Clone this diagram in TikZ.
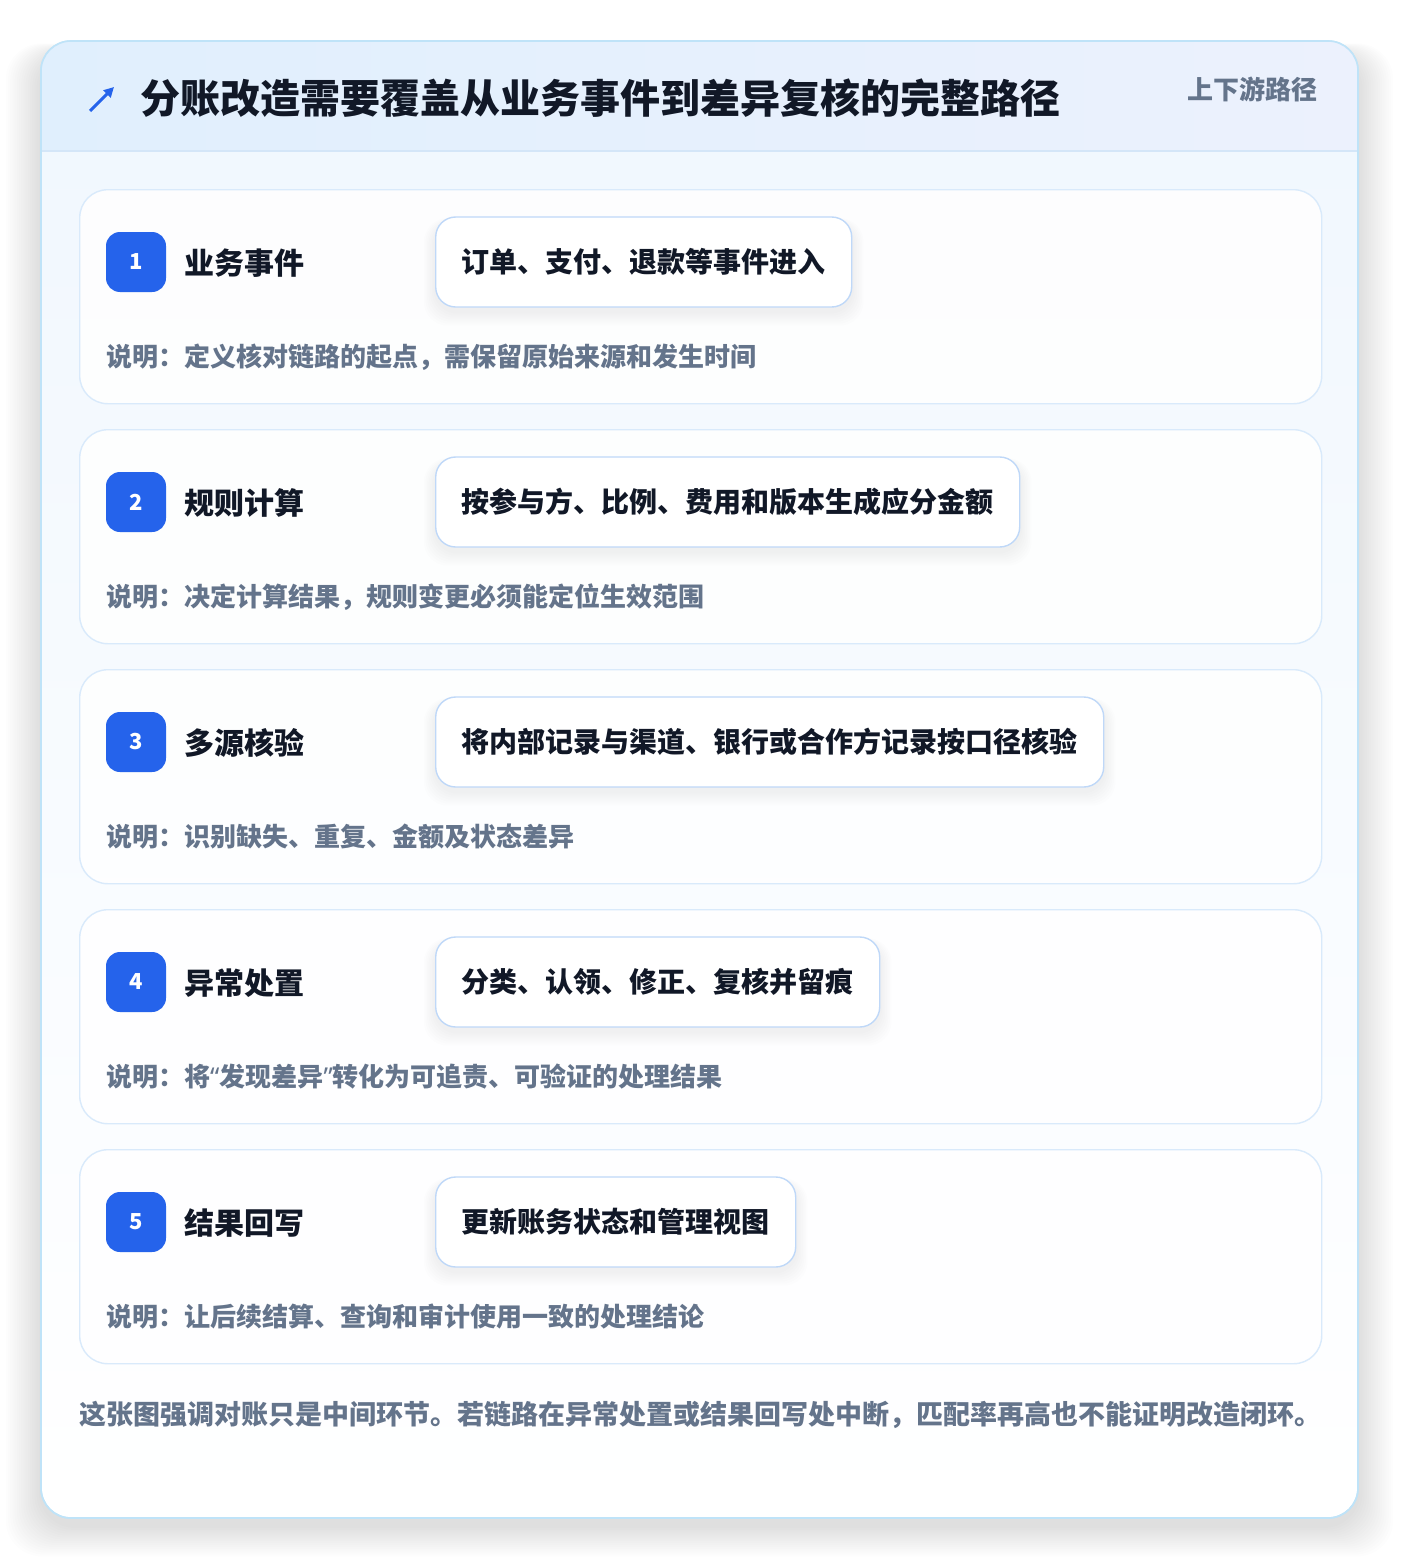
\documentclass[tikz,border=0pt]{standalone}
\usepackage{fontspec}
\setmainfont{Noto Sans CJK SC}
\newfontfamily\latinq{Noto Sans}
\usetikzlibrary{arrows.meta}
\definecolor{cardline}{HTML}{BFE3F8}
\definecolor{headA}{HTML}{E0EFFD}
\definecolor{headB}{HTML}{ECF1FD}
\definecolor{headline}{HTML}{D4E6F8}
\definecolor{bodytop}{HTML}{F0F7FE}
\definecolor{stepline}{HTML}{D9EAFB}
\definecolor{boxline}{HTML}{BFD8F8}
\definecolor{badgeblue}{HTML}{2563EB}
\definecolor{ink}{HTML}{111827}
\definecolor{muted}{HTML}{64748B}
\pgfdeclarelayer{cardlayer}
\pgfdeclarelayer{shadowlayer}
\pgfsetlayers{cardlayer,shadowlayer,main}
\tikzset{
  stepcard/.style={draw=stepline, line width=1.4pt, fill=white, fill opacity=0.85, rounded corners=28pt},
  badge/.style={fill=badgeblue, rounded corners=14pt, minimum width=60pt, minimum height=60pt, inner sep=0pt, text=white, font=\bfseries\fontsize{22}{22}\selectfont},
  steptitle/.style={anchor=west, inner sep=0pt, text=ink, font=\bfseries\fontsize{30}{30}\selectfont},
  actionbox/.style={anchor=west, draw=boxline, line width=1.4pt, fill=white, rounded corners=20pt, inner xsep=26pt, inner ysep=0pt, minimum height=90pt, text=ink, font=\bfseries\fontsize{28}{28}\selectfont},
  desc/.style={anchor=west, inner sep=0pt, text=muted, font=\bfseries\fontsize{26}{26}\selectfont},
}
\begin{document}
\begin{tikzpicture}[x=1pt,y=-1pt]
\begin{pgfonlayer}{cardlayer}
\useasboundingbox (0,0) rectangle (1400,1560);
\fill[white] (0,0) rectangle (1400,1560);
% outer shadow
\foreach \k in {1,...,16}{
  \fill[black, opacity=0.006, rounded corners=36pt] (41-\k*2.2, 41+12-\k*0.6) rectangle (1358+\k*2.2, 1518+8+\k*1.9);
}
% outer card
\path[draw=cardline, line width=1.6pt, rounded corners=30pt, top color=bodytop, bottom color=white] (41,41) rectangle (1358,1518);
\begin{scope}
  \clip[rounded corners=30pt] (41,41) rectangle (1358,1518);
  \fill[left color=headA, right color=headB] (41,41) rectangle (1358,151);
  \draw[headline, line width=1.4pt] (41,151) -- (1358,151);
\end{scope}
\draw[cardline, line width=1.6pt, rounded corners=30pt] (41,41) rectangle (1358,1518);
\end{pgfonlayer}
% header
\coordinate (iconA) at (90,111);
\coordinate (iconB) at (114,87);
\draw[badgeblue, line width=3pt, -{Triangle[length=10pt,width=10pt]}] (iconA) -- (iconB);
\node[anchor=west, inner sep=0pt, text=ink, font=\bfseries\fontsize{40}{40}\selectfont] (title) at (140,98) {分账改造需要覆盖从业务事件到差异复核的完整路径};
\node[anchor=east, inner sep=0pt, text=muted, font=\bfseries\fontsize{26}{26}\selectfont] (tag) at (1318,89) {上下游路径};
% steps
\foreach \i/\ttl/\act/\dsc in {
  1/业务事件/订单、支付、退款等事件进入/说明：定义核对链路的起点，需保留原始来源和发生时间,
  2/规则计算/按参与方、比例、费用和版本生成应分金额/说明：决定计算结果，规则变更必须能定位生效范围,
  3/多源核验/将内部记录与渠道、银行或合作方记录按口径核验/说明：识别缺失、重复、金额及状态差异,
  4/异常处置/分类、认领、修正、复核并留痕/说明：将{\latinq “}发现差异{\latinq ”}转化为可追责、可验证的处理结果,
  5/结果回写/更新账务状态和管理视图/说明：让后续结算、查询和审计使用一致的处理结论}{
  \pgfmathsetmacro{\top}{189+(\i-1)*240}
  \begin{pgfonlayer}{cardlayer}
  \node[stepcard, anchor=north west, minimum width=1242pt, minimum height=214pt, inner sep=0pt] (card\i) at (79,\top) {};
  \end{pgfonlayer}
  \node[badge] (badge\i) at (136,\top+73) {\i};
  \node[steptitle] (ttl\i) at (184,\top+74) {\ttl};
  \node[actionbox] (act\i) at (435,\top+73) {\act};
  \node[desc] (dsc\i) at (106,\top+168) {\dsc};
  \begin{pgfonlayer}{shadowlayer}
  \foreach \s in {1,...,7}{
    \fill[black, opacity=0.008, rounded corners=24pt] ([xshift=-\s*1.6pt, yshift=-4pt-\s*2pt]act\i.south west) rectangle ([xshift=\s*1.6pt, yshift=-6pt+\s*0.6pt]act\i.north east);
  }
  \end{pgfonlayer}
}
% footer
\node[anchor=west, inner sep=0pt, text=muted, font=\bfseries\fontsize{27}{27}\selectfont] (foot) at (79,1415) {这张图强调对账只是中间环节。若链路在异常处置或结果回写处中断，匹配率再高也不能证明改造闭环。};
\end{tikzpicture}
\end{document}
